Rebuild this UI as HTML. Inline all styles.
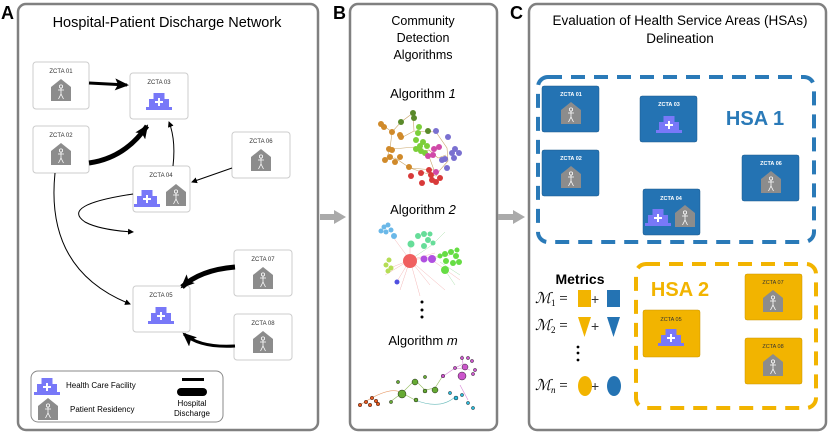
<!DOCTYPE html>
<html><head><meta charset="utf-8"><style>
html,body{margin:0;padding:0;background:#fff;width:830px;height:435px;overflow:hidden}
svg{display:block;font-family:"Liberation Sans",sans-serif}
</style></head><body>
<svg width="830" height="435" viewBox="0 0 830 435" xmlns="http://www.w3.org/2000/svg">
<defs>
<g id="house"><polygon points="0,8 10,0 20,8 20,22 0,22" fill="#8c8c8c"/>
<g stroke="#fff" stroke-width="0.8" fill="none"><circle cx="10" cy="7.5" r="1.6"/><path d="M10,9 V15 M7,11 L13,11 M10,15 L7.5,20 M10,15 L12.5,20"/></g></g>
<g id="hosp"><rect x="0" y="16" width="26" height="3" fill="#7878f8"/><rect x="3" y="8" width="20" height="9" fill="#7878f8"/><rect x="7.5" y="2" width="11" height="7" fill="#7878f8"/>
<path d="M13,7 V15 M9,11 H17" stroke="#fff" stroke-width="2"/></g>
<marker id="ar" markerWidth="6" markerHeight="6" refX="5" refY="3" orient="auto" markerUnits="userSpaceOnUse"><path d="M0,0 L6,3 L0,6 z" fill="#000"/></marker>
<marker id="arb" markerWidth="14" markerHeight="12" refX="12" refY="6" orient="auto" markerUnits="userSpaceOnUse"><path d="M0,0 L14,6 L0,12 L3,6 z" fill="#000"/></marker>
</defs>

<rect x="18" y="4" width="300" height="426" rx="8" fill="#fff" stroke="#808080" stroke-width="2.5"/>
<rect x="350" y="4" width="147" height="426" rx="8" fill="#fff" stroke="#808080" stroke-width="2.5"/>
<rect x="529" y="4" width="297" height="426" rx="8" fill="#fff" stroke="#808080" stroke-width="2.5"/>
<text x="1" y="19" font-size="18" font-weight="bold">A</text>
<text x="333" y="19" font-size="18" font-weight="bold">B</text>
<text x="510" y="19" font-size="18" font-weight="bold">C</text>
<path d="M320,217 H334" stroke="#aaa" stroke-width="6"/><polygon points="334,210 346,217 334,224" fill="#aaa"/>
<path d="M498,217 H513" stroke="#aaa" stroke-width="6"/><polygon points="513,210 525,217 513,224" fill="#aaa"/>

<text x="167" y="27" font-size="14.5" text-anchor="middle">Hospital-Patient Discharge Network</text>

<g fill="#fff" stroke="#ccc" stroke-width="1">
<rect x="33" y="62" width="56" height="47" rx="3"/>
<rect x="130" y="73" width="58" height="46" rx="3"/>
<rect x="33" y="126" width="56" height="47" rx="3"/>
<rect x="232" y="132" width="58" height="46" rx="3"/>
<rect x="133" y="166" width="57" height="46" rx="3"/>
<rect x="234" y="250" width="58" height="46" rx="3"/>
<rect x="133" y="286" width="57" height="46" rx="3"/>
<rect x="234" y="314" width="58" height="46" rx="3"/>
</g>
<g font-size="6" text-anchor="middle" fill="#333">
<text x="61" y="73">ZCTA 01</text><text x="159" y="84">ZCTA 03</text><text x="61" y="137">ZCTA 02</text>
<text x="261" y="143">ZCTA 06</text><text x="161" y="177">ZCTA 04</text><text x="263" y="261">ZCTA 07</text>
<text x="161" y="297">ZCTA 05</text><text x="263" y="325">ZCTA 08</text>
</g>
<use href="#house" x="51" y="79"/><use href="#hosp" x="146" y="91"/><use href="#house" x="51" y="143"/>
<use href="#house" x="251" y="149"/><use href="#hosp" x="134" y="188"/><use href="#house" x="166" y="184"/>
<use href="#house" x="253" y="267"/><use href="#hosp" x="148" y="305"/><use href="#house" x="253" y="331"/>

<g fill="none" stroke="#000">
<path d="M89,83 L127,85" stroke-width="3" marker-end="url(#arb)"/>
<path d="M89,163 Q125,158 147,126" stroke-width="5" marker-end="url(#arb)"/>
<path d="M173,166 Q176,140 169,122" stroke-width="1" marker-end="url(#ar)"/>
<path d="M232,168 L192,182" stroke-width="1" marker-end="url(#ar)"/>
<path d="M133,194 Q60,205 85,222 Q100,230 133,232" stroke-width="1" marker-end="url(#ar)"/>
<path d="M55,173 Q45,270 130,304" stroke-width="1" marker-end="url(#ar)"/>
<path d="M235,267 Q200,270 182,287" stroke-width="5" marker-end="url(#arb)"/>
<path d="M235,346 Q200,348 184,334" stroke-width="3" marker-end="url(#arb)"/>
</g>

<rect x="31" y="371" width="192" height="51" rx="7" fill="#fff" stroke="#888" stroke-width="1"/>
<use href="#hosp" x="34" y="376"/>
<use href="#house" x="38" y="398"/>
<text x="66" y="388" font-size="8">Health Care Facility</text>
<text x="70" y="412" font-size="8">Patient Residency</text>
<rect x="182" y="378" width="22" height="3" fill="#000"/>
<rect x="177" y="388" width="30" height="8" rx="4" fill="#000"/>
<text x="192" y="406" font-size="8" text-anchor="middle">Hospital</text>
<text x="192" y="416" font-size="8" text-anchor="middle">Discharge</text>

<g font-size="12.5" text-anchor="middle">
<text x="423" y="25">Community</text><text x="423" y="42">Detection</text><text x="423" y="59">Algorithms</text>
<text x="423" y="98" font-size="13">Algorithm <tspan font-style="italic">1</tspan></text>
<text x="423" y="214" font-size="13">Algorithm <tspan font-style="italic">2</tspan></text>
<text x="423" y="345" font-size="13">Algorithm <tspan font-style="italic">m</tspan></text>
</g>
<g fill="#000"><circle cx="422" cy="302" r="1.5"/><circle cx="422" cy="310" r="1.5"/><circle cx="422" cy="317" r="1.5"/></g>
<g stroke="#c9a56a" stroke-width="0.6" fill="none"><path d="M380,123 L392,132 L390,149 L386,160 L395,158 L410,168 L425,173 L436,176 L440,170 L448,161 L447,148 L436,132 L414,131 L413,113 L401,122 L392,132 M392,149 L415,147 L420,152 L429,150 L438,158 L446,155 M401,138 L414,131 M427,151 L434,170 L410,168"/></g>
<g fill="#d08a2a"><circle cx="381" cy="124" r="3"/><circle cx="384" cy="127" r="3"/><circle cx="392" cy="132" r="3"/><circle cx="400" cy="135" r="3"/><circle cx="389" cy="149" r="3"/><circle cx="392" cy="150" r="3"/><circle cx="385" cy="160" r="3"/><circle cx="390" cy="157" r="3"/><circle cx="395" cy="162" r="3"/><circle cx="400" cy="157" r="3"/><circle cx="409" cy="167" r="3"/><circle cx="401" cy="137" r="3"/></g>
<g fill="#5a8a2a"><circle cx="413" cy="113" r="3"/><circle cx="414" cy="118" r="3"/><circle cx="401" cy="122" r="3"/><circle cx="428" cy="131" r="3"/></g>
<g fill="#7ccf3a"><circle cx="419" cy="127" r="3"/><circle cx="418" cy="133" r="3"/><circle cx="416" cy="140" r="3"/><circle cx="423" cy="142" r="3"/><circle cx="416" cy="149" r="3"/><circle cx="421" cy="151" r="3"/><circle cx="427" cy="146" r="3"/><circle cx="425" cy="153" r="3"/><circle cx="420" cy="146" r="3"/></g>
<g fill="#d04aa8"><circle cx="434" cy="149" r="3"/><circle cx="439" cy="147" r="3"/><circle cx="433" cy="155" r="3"/><circle cx="428" cy="156" r="3"/><circle cx="436" cy="172" r="3"/></g>
<g fill="#7a70d0"><circle cx="436" cy="131" r="3"/><circle cx="448" cy="137" r="3"/><circle cx="452" cy="153" r="3"/><circle cx="455" cy="149" r="3"/><circle cx="459" cy="153" r="3"/><circle cx="454" cy="158" r="3"/><circle cx="445" cy="159" r="3"/><circle cx="447" cy="168" r="3"/><circle cx="442" cy="160" r="3"/></g>
<g fill="#d83a3a"><circle cx="411" cy="176" r="3"/><circle cx="421" cy="173" r="3"/><circle cx="422" cy="183" r="3"/><circle cx="431" cy="175" r="3"/><circle cx="432" cy="180" r="3"/><circle cx="436" cy="182" r="3"/><circle cx="440" cy="178" r="3"/><circle cx="429" cy="170" r="3"/></g>
<g stroke-width="0.5" fill="none" opacity="0.6">
<path d="M410,260 L393,237 M410,260 L410,245 M410,260 L435,253 M410,260 L390,268 M410,260 L396,283 M410,260 L420,296 M410,260 L445,290 M432,260 L460,280 M410,260 L450,255 M410,260 L400,290 M410,260 L430,285 M410,260 L385,275" stroke="#e88"/>
<path d="M410,260 L432,245 L445,232 M432,260 L455,250 M445,270 L455,285 M440,262 L460,275" stroke="#7c7"/>
</g>
<g fill="#6ab8e8"><circle cx="384" cy="227" r="2.5"/><circle cx="388" cy="225" r="2.5"/><circle cx="381" cy="231" r="2.5"/><circle cx="386" cy="232" r="2.5"/><circle cx="391" cy="230" r="2.5"/><circle cx="394" cy="236" r="3"/></g>
<g fill="#66dd99"><circle cx="411" cy="244" r="3.5"/><circle cx="418" cy="236" r="3"/><circle cx="424" cy="234" r="3"/><circle cx="428" cy="240" r="3"/><circle cx="424" cy="246" r="3"/><circle cx="433" cy="243" r="2.5"/><circle cx="430" cy="234" r="2.5"/></g>
<g fill="#b5dd55"><circle cx="389" cy="260" r="2.5"/><circle cx="386" cy="265" r="2.5"/><circle cx="391" cy="268" r="2.5"/><circle cx="388" cy="271" r="2.5"/></g>
<circle cx="410" cy="261" r="7" fill="#f06060"/>
<circle cx="424" cy="259" r="3.5" fill="#b050e0"/><circle cx="432" cy="259" r="4" fill="#b050e0"/>
<g fill="#66dd44"><circle cx="445" cy="254" r="3"/><circle cx="451" cy="252" r="3"/><circle cx="456" cy="256" r="3"/><circle cx="446" cy="261" r="3"/><circle cx="453" cy="263" r="3"/><circle cx="459" cy="262" r="3"/><circle cx="445" cy="270" r="4"/><circle cx="457" cy="250" r="2.5"/><circle cx="440" cy="256" r="2.5"/></g>
<circle cx="397" cy="282" r="2.5" fill="#5050e0"/>
<g stroke-width="0.6" fill="none" opacity="0.8">
<path d="M360,405 Q390,385 402,393" stroke="#e08040"/>
<path d="M402,393 L415,380 L425,390 L435,388 L442,377 M402,393 L415,400 M402,393 L390,402" stroke="#7a3"/>
<path d="M442,377 L455,368 L463,364 L462,355 M455,368 L470,370 M460,385 L468,400" stroke="#c6c"/>
<path d="M415,400 Q440,410 455,397" stroke="#4aa"/>
</g>
<g fill="#e85a20" stroke="#000" stroke-width="0.4"><circle cx="360" cy="405" r="1.8"/><circle cx="366" cy="402" r="1.8"/><circle cx="370" cy="405" r="1.8"/><circle cx="376" cy="401" r="1.8"/><circle cx="372" cy="398" r="1.8"/><circle cx="378" cy="404" r="1.8"/></g>
<g fill="#6a3" stroke="#000" stroke-width="0.4"><circle cx="402" cy="394" r="4"/><circle cx="415" cy="382" r="3"/><circle cx="435" cy="390" r="3"/><circle cx="425" cy="391" r="2"/><circle cx="416" cy="400" r="2"/><circle cx="391" cy="402" r="1.6"/><circle cx="398" cy="382" r="1.6"/><circle cx="425" cy="377" r="1.6"/></g>
<g fill="#c5c" stroke="#000" stroke-width="0.4"><circle cx="462" cy="376" r="4"/><circle cx="465" cy="367" r="3"/><circle cx="443" cy="376" r="1.8"/><circle cx="462" cy="358" r="1.6"/><circle cx="468" cy="358" r="1.6"/><circle cx="472" cy="361" r="1.6"/><circle cx="475" cy="370" r="1.6"/><circle cx="473" cy="374" r="1.6"/><circle cx="455" cy="368" r="1.6"/></g>
<g fill="#2ab8d8" stroke="#000" stroke-width="0.4"><circle cx="456" cy="398" r="2"/><circle cx="450" cy="393" r="1.6"/><circle cx="462" cy="395" r="1.6"/><circle cx="468" cy="403" r="1.6"/><circle cx="473" cy="408" r="1.6"/></g>

<text x="680" y="25" font-size="13.5" text-anchor="middle">Evaluation of Health Service Areas (HSAs)</text>
<text x="680" y="43" font-size="13.5" text-anchor="middle">Delineation</text>
<rect x="538" y="77" width="276" height="165" rx="10" fill="none" stroke="#2a7ab8" stroke-width="4" stroke-dasharray="14,9"/>
<text x="755" y="125" font-size="20" font-weight="bold" fill="#2a7ab8" text-anchor="middle">HSA 1</text>
<g fill="#2473b3" stroke="#1c5a8c" stroke-width="0.5">
<rect x="542" y="86" width="57" height="46" rx="2"/><rect x="640" y="96" width="57" height="46" rx="2"/>
<rect x="542" y="150" width="57" height="46" rx="2"/><rect x="742" y="155" width="57" height="46" rx="2"/>
<rect x="643" y="189" width="57" height="46" rx="2"/>
</g>
<g font-size="5.5" font-weight="bold" fill="#fff" text-anchor="middle">
<text x="571" y="96">ZCTA 01</text><text x="669" y="106">ZCTA 03</text><text x="571" y="160">ZCTA 02</text>
<text x="771" y="165">ZCTA 06</text><text x="671" y="200">ZCTA 04</text>
</g>
<use href="#house" x="561" y="102"/><use href="#hosp" x="656" y="114"/><use href="#house" x="561" y="166"/>
<use href="#house" x="761" y="171"/><use href="#hosp" x="645" y="207"/><use href="#house" x="675" y="205"/>

<rect x="636" y="264" width="180" height="144" rx="10" fill="none" stroke="#f2b400" stroke-width="4" stroke-dasharray="14,9"/>
<text x="680" y="296" font-size="20" font-weight="bold" fill="#f2b400" text-anchor="middle">HSA 2</text>
<g fill="#f2b400" stroke="#c99400" stroke-width="0.5">
<rect x="643" y="310" width="57" height="47" rx="2"/><rect x="745" y="274" width="57" height="46" rx="2"/><rect x="745" y="338" width="57" height="46" rx="2"/>
</g>
<g font-size="5.5" fill="#333" text-anchor="middle">
<text x="671" y="321">ZCTA 05</text><text x="773" y="284">ZCTA 07</text><text x="773" y="348">ZCTA 08</text>
</g>
<use href="#hosp" x="658" y="327"/><use href="#house" x="763" y="290"/><use href="#house" x="763" y="354"/>

<text x="580" y="284" font-size="14" font-weight="bold" text-anchor="middle">Metrics</text>
<g font-family="Liberation Serif,serif" font-size="15" font-style="italic">
<text x="535" y="303">ℳ<tspan font-size="9" font-style="normal" dy="3">1</tspan><tspan dy="-3" font-style="normal"> =</tspan></text>
<text x="535" y="330">ℳ<tspan font-size="9" font-style="normal" dy="3">2</tspan><tspan dy="-3" font-style="normal"> =</tspan></text>
<text x="535" y="390">ℳ<tspan font-size="9" dy="3">n</tspan><tspan dy="-3" font-style="normal"> =</tspan></text>
</g>
<g font-size="14" fill="#333"><text x="591" y="304">+</text><text x="591" y="331">+</text><text x="591" y="391">+</text></g>
<rect x="578" y="290" width="13" height="17" fill="#f2b400"/><rect x="607" y="290" width="13" height="17" fill="#2473b3"/>
<polygon points="578,317 591,317 584.5,337" fill="#f2b400"/><polygon points="607,317 620,317 613.5,337" fill="#2473b3"/>
<ellipse cx="585" cy="386" rx="7" ry="10" fill="#f2b400"/><ellipse cx="614" cy="386" rx="7" ry="10" fill="#2473b3"/>
<g fill="#000"><circle cx="578" cy="347" r="1.4"/><circle cx="578" cy="353" r="1.4"/><circle cx="578" cy="360" r="1.4"/></g>
</svg>
</body></html>
